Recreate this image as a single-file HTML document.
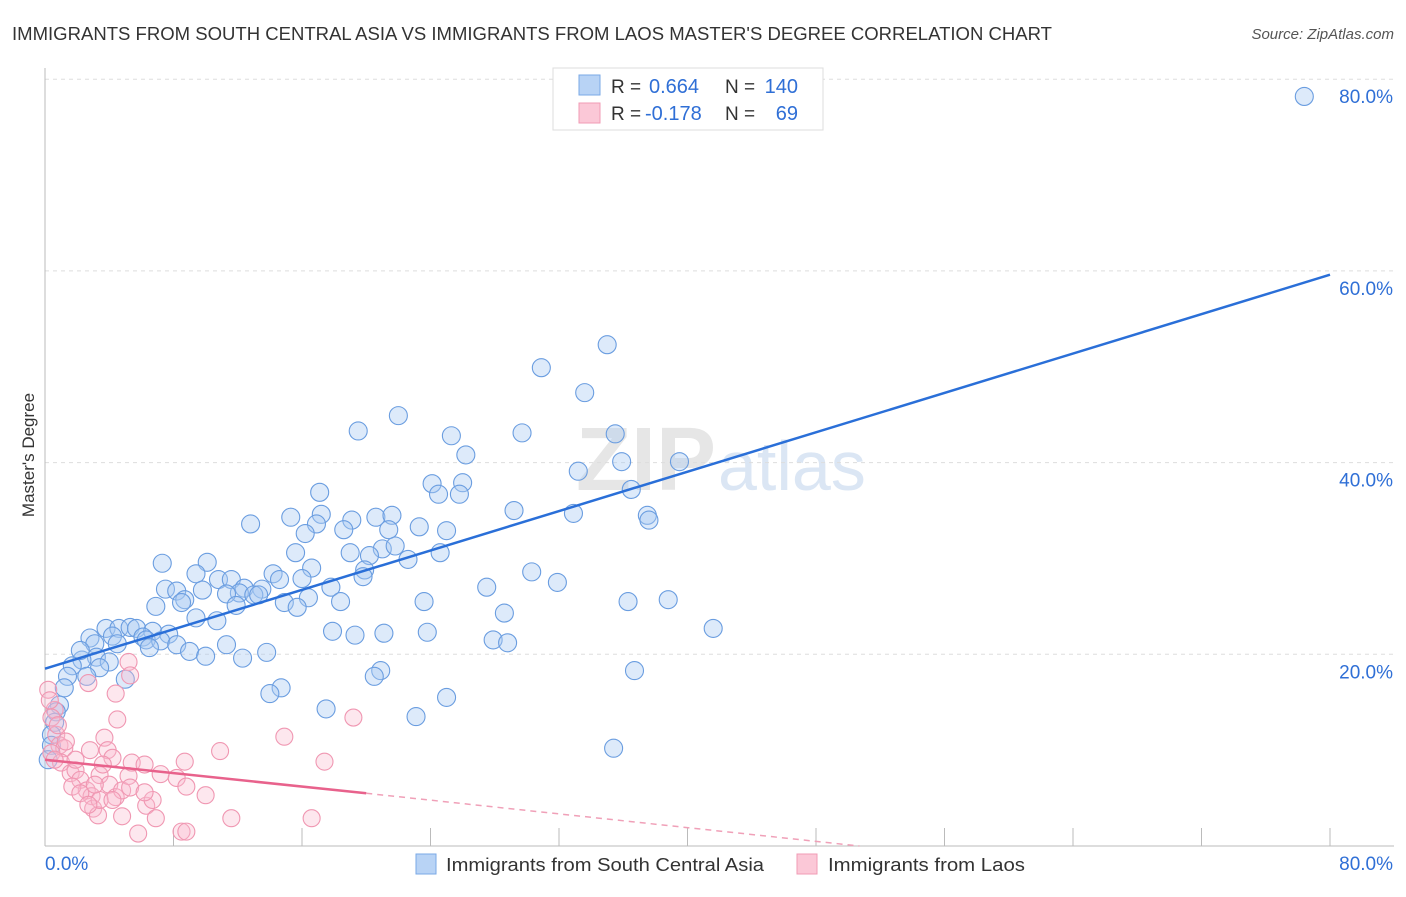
<!DOCTYPE html>
<html><head><meta charset="utf-8"><style>
body{margin:0;background:#fff;font-family:"Liberation Sans",sans-serif;}
svg text{font-family:"Liberation Sans",sans-serif;}
</style></head><body>
<svg width="1406" height="892" viewBox="0 0 1406 892" id="chart">
<text x="12" y="40" font-size="18" fill="#333" textLength="1040" lengthAdjust="spacingAndGlyphs">IMMIGRANTS FROM SOUTH CENTRAL ASIA VS IMMIGRANTS FROM LAOS MASTER'S DEGREE CORRELATION CHART</text>
<text x="1394" y="39" font-size="15" fill="#555" font-style="italic" text-anchor="end">Source: ZipAtlas.com</text>
<text x="716" y="490" font-size="90" fill="#e6e6e6" text-anchor="end" font-family="Liberation Serif" font-weight="bold">ZIP</text>
<text x="718" y="490" font-size="70" fill="#dbe6f4">atlas</text>
<g id="grid"></g>
<g id="axes"></g>
<g id="pts"></g>
<g id="lines"></g>
<text x="34" y="455" font-size="17" fill="#333" text-anchor="middle" transform="rotate(-90 34 455)">Master's Degree</text>
<g>
<rect x="553" y="68" width="270" height="62" fill="#fff" stroke="#ddd"/>
<rect x="579" y="75" width="21" height="20" fill="#b8d3f5" stroke="#7aa8e6"/>
<rect x="579" y="103" width="21" height="20" fill="#fbc8d7" stroke="#f09bb4"/>
<text x="611" y="93" font-size="19" fill="#333">R =</text>
<text x="649" y="93" font-size="20" fill="#2f6fd6">0.664</text>
<text x="725" y="93" font-size="19" fill="#333">N =</text>
<text x="798" y="93" font-size="20" fill="#2f6fd6" text-anchor="end">140</text>
<text x="611" y="120" font-size="19" fill="#333">R =</text>
<text x="645" y="120" font-size="20" fill="#2f6fd6">-0.178</text>
<text x="725" y="120" font-size="19" fill="#333">N =</text>
<text x="798" y="120" font-size="20" fill="#2f6fd6" text-anchor="end">69</text>
</g>
<g>
<rect x="416" y="854" width="20" height="20" fill="#b8d3f5" stroke="#7aa8e6"/>
<text x="446" y="871" font-size="18" fill="#333" textLength="318" lengthAdjust="spacingAndGlyphs">Immigrants from South Central Asia</text>
<rect x="797" y="854" width="20" height="20" fill="#fbc8d7" stroke="#f09bb4"/>
<text x="828" y="871" font-size="18" fill="#333" textLength="197" lengthAdjust="spacingAndGlyphs">Immigrants from Laos</text>
</g>
</svg>
<script>
const yTicks=[20,40,60,80];
const yTickLabels=["20.0%","40.0%","60.0%","80.0%"];
const xTickLabels=["0.0%","80.0%"];
const blueX=[78.4,35.0,30.9,33.6,22.0,19.5,25.3,29.7,35.5,26.2,35.9,39.5,33.2,24.1,26.0,36.5,17.1,24.5,25.8,29.2,32.9,37.5,37.6,15.3,17.2,19.1,20.6,21.6,12.8,16.9,18.6,21.4,23.3,25.0,16.2,21.0,21.8,24.6,19.0,20.2,22.6,15.6,7.3,10.1,16.6,19.9,30.3,9.4,14.2,10.8,11.6,16.0,14.6,19.8,31.9,27.5,7.5,8.2,9.8,12.4,13.5,12.1,11.3,13.0,13.3,17.8,8.7,8.5,16.4,14.9,15.7,18.4,11.9,6.9,23.6,36.3,38.8,28.6,10.7,9.4,3.8,4.6,5.3,5.7,6.7,7.7,2.8,4.2,6.1,6.3,7.2,3.1,4.5,8.2,6.5,11.3,9.0,10.0,12.3,13.8,17.9,19.3,21.1,23.8,27.9,28.8,41.6,3.2,2.3,4.0,1.7,3.4,2.6,1.4,5.0,20.9,20.5,36.7,1.2,14.7,14.0,25.0,0.9,0.7,17.5,23.1,0.6,0.4,0.4,0.2,35.4,2.2];
const blueY=[78.2,52.3,49.9,47.3,44.9,43.3,42.8,43.1,43.0,40.8,40.1,40.1,39.1,37.8,37.9,37.2,36.9,36.7,36.7,35.0,34.7,34.5,34.0,34.3,34.6,34.0,34.3,34.5,33.6,33.6,33.0,33.0,33.3,32.9,32.6,31.0,31.3,30.6,30.6,30.3,29.9,30.6,29.5,29.6,29.0,28.8,28.6,28.4,28.4,27.8,27.8,27.9,27.8,28.1,27.5,27.0,26.8,26.6,26.7,26.9,26.8,26.4,26.3,26.2,26.2,27.0,25.7,25.4,25.9,25.4,24.9,25.5,25.1,25.0,25.5,25.5,25.7,24.3,23.5,23.8,22.7,22.7,22.8,22.7,22.4,22.1,21.7,21.9,21.8,21.5,21.4,21.1,21.1,21.0,20.7,21.0,20.3,19.8,19.6,20.2,22.4,22.0,22.2,22.3,21.5,21.2,22.7,19.7,19.4,19.2,18.8,18.6,17.7,17.7,17.4,18.3,17.7,18.3,16.5,16.5,15.9,15.5,14.7,14.0,14.3,13.5,12.9,11.6,10.5,9.0,10.2,20.4];
const pinkX=[0.2,2.7,5.2,5.3,4.4,4.5,0.6,0.4,0.7,0.9,1.2,0.4,1.0,1.6,1.9,2.2,2.6,2.9,3.0,3.3,1.7,2.2,3.4,3.7,3.9,4.2,3.6,4.0,4.4,4.8,5.2,5.4,4.8,5.8,5.3,6.2,6.3,6.7,6.2,7.2,8.2,8.8,8.7,10.0,10.9,11.6,8.5,8.8,14.9,17.4,16.6,19.2,6.9,0.6,1.3,2.8,3.4,3.1,4.2,0.3,0.8,1.9,2.7];
const pinkY=[16.3,17.0,19.2,17.8,15.9,13.2,14.2,13.4,11.6,10.5,10.2,9.7,8.7,7.6,7.9,6.9,5.8,5.2,3.9,3.2,6.2,5.5,7.4,11.3,10.0,9.2,8.5,6.4,5.1,5.8,7.3,8.7,3.1,1.3,6.1,8.5,4.2,4.8,5.6,7.5,7.1,6.2,8.8,5.3,9.9,2.9,1.5,1.5,11.4,8.8,2.9,13.4,2.9,9.0,10.9,10.0,4.8,6.4,4.8,15.2,12.6,9.0,4.3];
const blueTrend=[[0,18.5],[80,59.6]];
const pinkTrendSolid=[[0,9.0],[20,5.5]];
const pinkTrendDash=[[20,5.5],[50.7,0]];

const X=v=>45+v/80*1285, Y=v=>846-v/20*191.7;
const NS="http://www.w3.org/2000/svg";
function mk(tag,attrs,parent){const e=document.createElementNS(NS,tag);for(const k in attrs)e.setAttribute(k,attrs[k]);parent.appendChild(e);return e;}
const grid=document.getElementById('grid'),axes=document.getElementById('axes'),pts=document.getElementById('pts'),lines=document.getElementById('lines');
yTicks.forEach((t,i)=>{
  const l=mk('line',{x1:45,x2:1394,y1:Y(t),y2:Y(t),stroke:'#ddd','stroke-dasharray':'4,4'},grid);
  
  
  const tx=mk('text',{x:1393,y:Y(t)+24,'font-size':19,fill:'#2f6fd6','text-anchor':'end'},grid);
  tx.textContent=yTickLabels[i];
  
  
});
const ax=mk('line',{x1:45,x2:45,y1:68,y2:846,stroke:'#bbb'},axes);


const bx=mk('line',{x1:45,x2:1394,y1:846,y2:846,stroke:'#bbb'},axes);


for(let i=1;i<=10;i++){
  const t=mk('line',{x1:X(i*8),x2:X(i*8),y1:828,y2:846,stroke:'#bbb'},axes);
  
  
}
const xl0=mk('text',{x:45,y:870,'font-size':19,fill:'#2f6fd6'},axes);xl0.textContent=xTickLabels[0];


const xl1=mk('text',{x:1393,y:870,'font-size':19,fill:'#2f6fd6','text-anchor':'end'},axes);xl1.textContent=xTickLabels[1];


blueX.forEach((v,i)=>{
  const c=mk('circle',{cx:X(v),cy:Y(blueY[i]),r:9,fill:'rgba(170,202,242,0.4)',stroke:'#6a9de0','stroke-width':1.1},pts);
  
  
});
pinkX.forEach((v,i)=>{
  const c=mk('circle',{cx:X(v),cy:Y(pinkY[i]),r:8.5,fill:'rgba(248,185,205,0.35)',stroke:'#f097b2','stroke-width':1.1},pts);
  
  
});
const bl=mk('line',{x1:X(blueTrend[0][0]),y1:Y(blueTrend[0][1]),x2:X(blueTrend[1][0]),y2:Y(blueTrend[1][1]),stroke:'#2a6fd8','stroke-width':2.5},lines);


const pl=mk('line',{x1:X(pinkTrendSolid[0][0]),y1:Y(pinkTrendSolid[0][1]),x2:X(pinkTrendSolid[1][0]),y2:Y(pinkTrendSolid[1][1]),stroke:'#e8628c','stroke-width':2.5},lines);


const pd=mk('line',{x1:X(pinkTrendDash[0][0]),y1:Y(pinkTrendDash[0][1]),x2:X(pinkTrendDash[1][0]),y2:Y(pinkTrendDash[1][1]),stroke:'#f0a0b8','stroke-width':1.5,'stroke-dasharray':'6,5'},lines);


</script>
</body></html>
